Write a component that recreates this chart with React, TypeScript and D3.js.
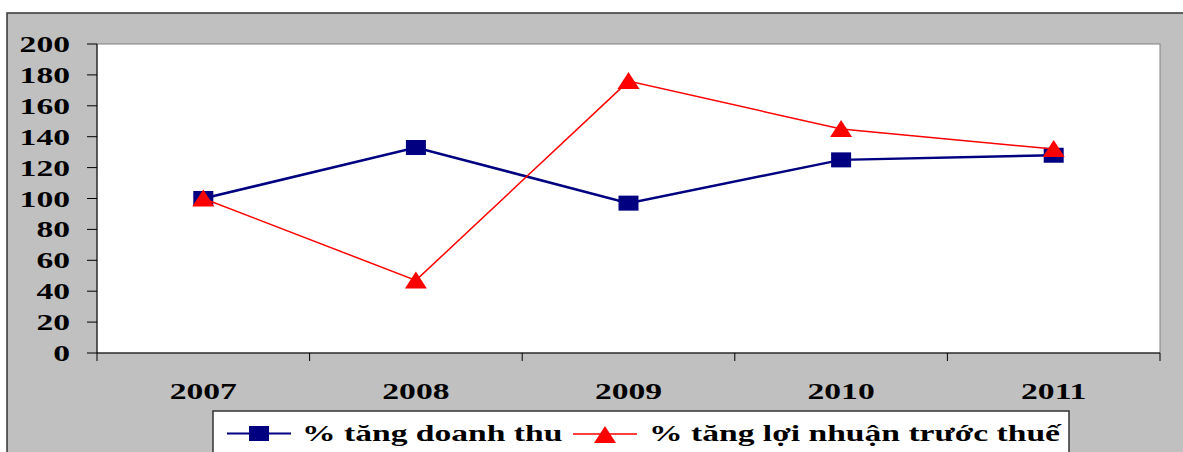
import React from 'react';
import * as d3 from 'd3';

const years = ['2007', '2008', '2009', '2010', '2011'];
const doanhThu = [100, 133, 97, 125, 128];
const loiNhuan = [100, 47, 176, 145, 132];
const yTicks = [0, 20, 40, 60, 80, 100, 120, 140, 160, 180, 200];
const seriesNames = ['% tăng doanh thu', '% tăng lợi nhuận trước thuế'];

const W = 1183;
const H = 452;
const plot = { left: 97, top: 44, right: 1160, bottom: 353 };
const font = '"Liberation Serif"';
const sx = 1.4; // old chart image is stretched sideways

const Label: React.FC<{ x: number; y: number; anchor?: string; children: React.ReactNode }> = ({ x, y, anchor = 'middle', children }) => (
  <text
    transform={`translate(${x},${y}) scale(${sx},1)`}
    textAnchor={anchor}
    style={{ fontFamily: font, fontWeight: 'bold', fontSize: 24 }}
    fill="#000"
  >
    {children}
  </text>
);

const tri = (cx: number, cy: number) => `M${cx},${cy - 9} L${cx + 11},${cy + 8} L${cx - 11},${cy + 8} Z`;

export default function App() {
  const x = d3.scaleBand().domain(years).range([plot.left, plot.right]);
  const y = d3.scaleLinear().domain([0, 200]).range([plot.bottom, plot.top]);
  const cx = (d: string) => (x(d) || 0) + x.bandwidth() / 2;

  const line = d3.line<number>()
    .x((_, i) => cx(years[i]))
    .y(d => y(d));

  const bounds = years.map(d => x(d) || 0).concat([plot.right]);

  return (
    <svg width={W} height={H} style={{ position: 'absolute', left: 0, top: 0, display: 'block' }}>
      <rect x={0} y={0} width={W} height={H} fill="#fff" />
      <rect x={7} y={13} width={W + 20} height={H + 20} fill="#C0C0C0" stroke="#333" strokeWidth={1.5} />
      <rect x={plot.left} y={plot.top} width={plot.right - plot.left} height={plot.bottom - plot.top} fill="#fff" stroke="#808080" strokeWidth={1} />

      {/* y axis */}
      <line x1={plot.left} x2={plot.left} y1={plot.top} y2={plot.bottom} stroke="#000" strokeWidth={1} />
      {yTicks.map(t => (
        <g key={t}>
          <line x1={plot.left - 10} x2={plot.left} y1={y(t)} y2={y(t)} stroke="#000" />
          <Label x={70} y={y(t) + 8} anchor="end">{t}</Label>
        </g>
      ))}

      {/* x axis */}
      <line x1={plot.left} x2={plot.right} y1={plot.bottom} y2={plot.bottom} stroke="#000" strokeWidth={1} />
      {bounds.map((b, i) => (
        <line key={i} x1={b} x2={b} y1={plot.bottom} y2={plot.bottom + 8} stroke="#000" />
      ))}
      {years.map(d => (
        <Label key={d} x={cx(d)} y={399}>{d}</Label>
      ))}

      {/* series */}
      <path d={line(doanhThu) || ''} fill="none" stroke="#000080" strokeWidth={2.5} />
      {doanhThu.map((v, i) => (
        <rect key={i} x={cx(years[i]) - 10} y={y(v) - 7.5} width={20} height={15} fill="#000080" />
      ))}
      <path d={line(loiNhuan) || ''} fill="none" stroke="#FF0000" strokeWidth={1.5} />
      {loiNhuan.map((v, i) => (
        <path key={i} d={tri(cx(years[i]), y(v))} fill="#FF0000" />
      ))}

      {/* legend */}
      <rect x={213} y={411} width={856} height={60} fill="#fff" stroke="#333" strokeWidth={1.5} />
      <line x1={227} x2={291} y1={433.5} y2={433.5} stroke="#000080" strokeWidth={2} />
      <rect x={249} y={426} width={20} height={15} fill="#000080" />
      <Label x={302} y={441} anchor="start">{seriesNames[0]}</Label>
      <line x1={573} x2={637} y1={434} y2={434} stroke="#FF0000" strokeWidth={1.5} />
      <path d={tri(605, 435)} fill="#FF0000" />
      <Label x={649} y={441} anchor="start">{seriesNames[1]}</Label>
    </svg>
  );
}
